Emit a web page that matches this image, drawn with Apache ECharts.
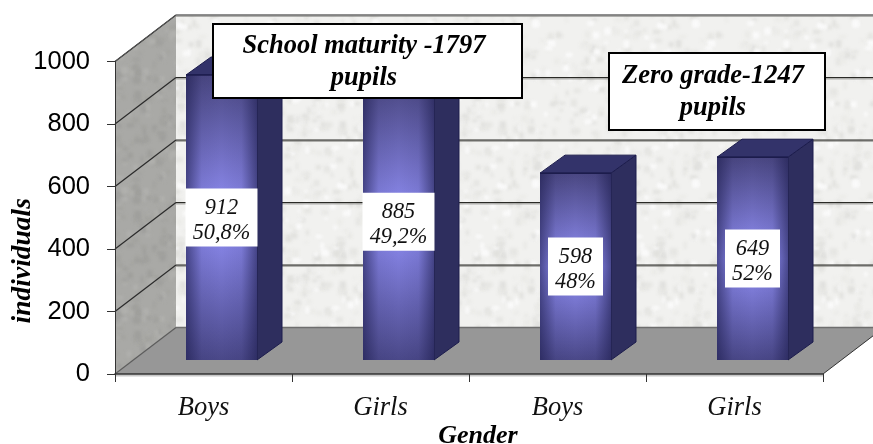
<!DOCTYPE html>
<html><head><meta charset="utf-8">
<style>html,body{margin:0;padding:0;background:#fff}#c{width:873px;height:444px}</style>
<script src="https://cdn.jsdelivr.net/npm/echarts@6/dist/echarts.min.js"></script>
</head><body><div id="c"></div>
<script>
const categories = ['Boys','Girls','Boys','Girls'];
const pupils = [912,885,598,649];
const shares = ['50,8%','49,2%','48%','52%'];
const yTicks = [0,200,400,600,800,1000];
const noteTexts = ['School maturity -1797\npupils','Zero grade-1247\npupils'];
const SERIF = '"Liberation Serif","Times New Roman",serif';
const SANS = '"Liberation Sans",Arial,sans-serif';
// depth of the room and of the bars
const ROOM_DX=61, ROOM_DY=-46.5, BAR_X=18, BAR_Y=-14, BAR_DX=25, BAR_DY=-18, BAR_W=71;

function texture(base, spot, n, blur, size){
  const c=document.createElement('canvas'); c.width=c.height=size;
  const g=c.getContext('2d'); g.fillStyle=base; g.fillRect(0,0,size,size);
  g.filter='blur('+blur+'px)'; let s=12345;
  const r=()=>{s=(s*1103515245+12345)&0x7fffffff;return s/0x7fffffff;};
  for(let i=0;i<n;i++){
    g.fillStyle=spot[Math.floor(r()*spot.length)];
    const x=r()*size,y=r()*size,w=2+r()*6,h=2+r()*6;
    for(const ox of [0,-size,size])for(const oy of [0,-size,size]) g.fillRect(x+ox,y+oy,w,h);
  }
  return {image:c,repeat:'repeat'};
}
const wallFill=texture('#f1f1ef',['#e6e6e3','#ebebe8','#fafafa','#e1e1de'],300,1.6,160);
const sideFill=texture('#a9a9a6',['#a3a39f','#b0b0ad','#9f9f9c'],200,1.6,120);

function poly(pts,style,z){return {type:'polygon',shape:{points:pts},style:style,z2:z||0,silent:true};}
function seg(a,b,stroke,w){return {type:'line',shape:{x1:a[0],y1:a[1],x2:b[0],y2:b[1]},style:{stroke:stroke,lineWidth:w,fill:null},silent:true};}

function renderRoom(params,api){
  const g=params.coordSys, l=g.x, r=g.x+g.width, t=g.y, b=g.y+g.height;
  const kids=[
    poly([[l+ROOM_DX,t+ROOM_DY],[r+ROOM_DX,t+ROOM_DY],[r+ROOM_DX,b+ROOM_DY],[l+ROOM_DX,b+ROOM_DY]],{fill:wallFill}),
    poly([[l,b],[l,t],[l+ROOM_DX,t+ROOM_DY],[l+ROOM_DX,b+ROOM_DY]],{fill:sideFill}),
    poly([[l,b],[r,b],[r+ROOM_DX,b+ROOM_DY],[l+ROOM_DX,b+ROOM_DY]],{fill:'#979797'})
  ];
  yTicks.forEach(v=>{
    const y=api.coord([0,v])[1];
    if(v>0){
      kids.push(seg([l+ROOM_DX,y+ROOM_DY+1],[r+ROOM_DX,y+ROOM_DY+1],'rgba(110,110,105,0.5)',2));
      kids.push(seg([l+ROOM_DX,y+ROOM_DY],[r+ROOM_DX,y+ROOM_DY],'#2a2a26',1.2));
    }
    kids.push(seg([l,y],[l+ROOM_DX,y+ROOM_DY],v>0?'#2b2b2b':'#5c5c5c',1.2));
  });
  kids.push(seg([l+ROOM_DX,b+ROOM_DY],[r+ROOM_DX,b+ROOM_DY],'#6e6e6e',1.5));
  kids.push(seg([l,t],[l+ROOM_DX,t+ROOM_DY],'#555',1));
  kids.push(seg([l+ROOM_DX,t+ROOM_DY],[r+ROOM_DX,t+ROOM_DY],'#8c8c8c',1.5));
  kids.push(seg([l,b+1.5],[r,b+1.5],'#c8c8c8',2));
  kids.push(seg([r,b],[r+ROOM_DX,b+ROOM_DY],'#333',1));
  return {type:'group',children:kids};
}

const measureCtx=document.createElement('canvas').getContext('2d');
const LABEL_FONT='italic 22.3px '+SERIF;
function renderBar(params,api){
  const i=api.value(0), v=api.value(1);
  const c=api.coord([i,v]), c0=api.coord([i,0]);
  const x0=c0[0]+BAR_X-BAR_W/2, x1=x0+BAR_W, yb=c0[1]+BAR_Y, yt=c[1]+BAR_Y;
  const dark='#1c1c4c';
  const vert={type:'linear',x:0,y:0,x2:0,y2:1,colorStops:[
    {offset:0,color:'#4a4782'},{offset:0.5,color:'#9290f8'},{offset:1,color:'#4a4888'}]};
  const horiz={type:'linear',x:0,y:0,x2:1,y2:0,colorStops:[
    {offset:0,color:'rgba(28,28,76,0.6)'},{offset:0.22,color:'rgba(28,28,76,0.08)'},
    {offset:0.5,color:'rgba(28,28,76,0)'},{offset:0.78,color:'rgba(28,28,76,0.08)'},{offset:1,color:'rgba(28,28,76,0.6)'}]};
  const rect=(s)=>({type:'rect',shape:{x:x0,y:yt,width:BAR_W,height:yb-yt},style:s,silent:true});
  const text=pupils[i]+'\n'+shares[i];
  measureCtx.font=LABEL_FONT;
  const boxW=Math.round(measureCtx.measureText(shares[i]).width)+14, boxH=58;
  const mx=(x0+x1)/2, my=(yb+yt)/2;
  return {type:'group',children:[
    poly([[x1,yb],[x1,yt],[x1+BAR_DX,yt+BAR_DY],[x1+BAR_DX,yb+BAR_DY]],{fill:'#2e2e5e',stroke:dark,lineWidth:1}),
    poly([[x0,yt],[x1,yt],[x1+BAR_DX,yt+BAR_DY],[x0+BAR_DX,yt+BAR_DY]],{fill:'#33336a',stroke:dark,lineWidth:1}),
    rect({fill:vert}),
    rect({fill:horiz}),
    seg([x0,yt],[x1,yt],dark,1.5),
    {type:'rect',silent:true,shape:{x:mx-boxW/2,y:my-boxH/2,width:boxW,height:boxH},style:{fill:'#fff'}},
    {type:'text',silent:true,x:mx,y:my+3,style:{
      text:text,align:'center',verticalAlign:'middle',font:LABEL_FONT,fill:'#111',lineHeight:25}}
  ]};
}

function noteBox(x,y,w,h,tx,ty,text){
  return [
    {type:'rect',z:20,shape:{x:x,y:y,width:w,height:h},style:{fill:'#fff',stroke:'#000',lineWidth:2}},
    {type:'text',z:21,x:tx,y:ty,style:{text:text,align:'center',verticalAlign:'middle',
      font:'italic bold 26.5px '+SERIF,fill:'#000',lineHeight:32}}
  ];
}
const graphic=[].concat(
  noteBox(213,24,309,74,364,62,noteTexts[0]),
  noteBox(609,53,216,77,713,92,noteTexts[1])
);

const chart=echarts.init(document.getElementById('c'),null,{renderer:'canvas'});
chart.setOption({
  animation:false,
  backgroundColor:'#fff',
  grid:{left:115,right:50,top:61.5,bottom:70,outerBoundsMode:'none'},
  xAxis:{type:'category',data:categories,z:5,
    axisLine:{lineStyle:{color:'#333',width:1.5}},
    axisTick:{show:true,length:8,lineStyle:{color:'#333'},alignWithLabel:false},
    axisLabel:{fontFamily:SERIF,fontStyle:'italic',fontSize:26.5,color:'#111',margin:21},
    name:'Gender',nameLocation:'middle',nameGap:49,nameMoveOverlap:false,
    nameTextStyle:{fontFamily:SERIF,fontStyle:'italic',fontWeight:'bold',fontSize:26,color:'#000',padding:[0,0,0,18]}},
  yAxis:{type:'value',min:0,max:1000,interval:200,z:5,
    axisLine:{show:true,lineStyle:{color:'#333',width:1}},
    axisTick:{show:true,length:8,lineStyle:{color:'#333'}},
    splitLine:{show:false},
    axisLabel:{fontFamily:SANS,fontSize:25.5,color:'#000',margin:25,padding:[4,0,0,0],formatter:function(v){return String(v);}},
    name:'individuals',nameLocation:'middle',nameGap:79,nameRotate:90,nameMoveOverlap:false,
    nameTextStyle:{fontFamily:SERIF,fontStyle:'italic',fontWeight:'bold',fontSize:27.5,color:'#000',padding:[0,86,0,0]}},
  series:[
    {type:'custom',z:1,clip:false,silent:true,renderItem:renderRoom,data:[[0,0]],encode:{x:0,y:1}},
    {type:'custom',z:3,clip:false,silent:true,renderItem:renderBar,
      data:pupils.map((v,i)=>[i,v]),encode:{x:0,y:1}}
  ],
  graphic:graphic
});
</script></body></html>
